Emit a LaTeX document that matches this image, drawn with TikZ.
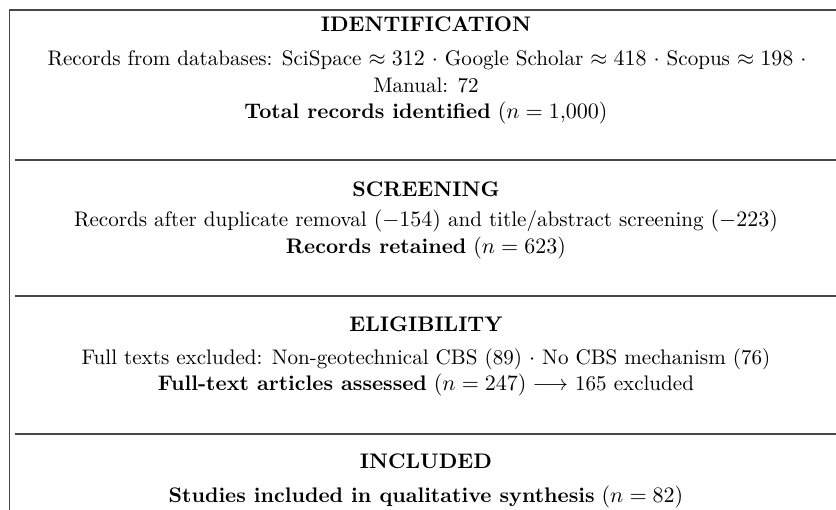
\documentclass[tikz,border=0pt]{standalone}
\begin{document}
\begin{tikzpicture}[x=0.454545pt,y=-0.454545pt,
  rule/.style={draw=black!72,line width=0.55pt},
  txt/.style={anchor=base,inner sep=0pt,outer sep=0pt,font=\fontsize{9.58}{11.5}\selectfont}]
\useasboundingbox (0,0) rectangle (836,510);
% frame lines
\draw[rule] (9.5,510) -- (9.5,10) -- (836,10);
\draw[rule] (15,160) -- (836,160);
\draw[rule] (15,296) -- (836,296);
\draw[rule] (15,434) -- (836,434);
% identification
\node[txt] (h1) at (426,31.7) {\textbf{IDENTIFICATION}};
\node[txt] (a1) at (427,66) {Records from databases: SciSpace $\approx 312$ $\cdot$ Google Scholar $\approx 418$ $\cdot$ Scopus $\approx 198$ $\cdot$};
\node[txt] (a2) at (426,92.7) {Manual: 72};
\node[txt] (a3) at (426,118.5) {\textbf{Total records identified} $(n=1{,}000)$};
% screening
\node[txt] (h2) at (426,196) {\textbf{SCREENING}};
\node[txt] (b1) at (426,226.7) {Records after duplicate removal $(-154)$ and title/abstract screening $(-223)$};
\node[txt] (b2) at (426,253.3) {\textbf{Records retained} $(n=623)$};
% eligibility
\node[txt] (h3) at (426,331) {\textbf{ELIGIBILITY}};
\node[txt] (c1) at (426,364) {Full texts excluded: Non-geotechnical CBS (89) $\cdot$ No CBS mechanism (76)};
\node[txt] (c2) at (426,390) {\textbf{Full-text articles assessed} $(n=247)\longrightarrow$ 165 excluded};
% included
\node[txt] (h4) at (426,468) {\textbf{INCLUDED}};
\node[txt] (d1) at (426,502.7) {\textbf{Studies included in qualitative synthesis} $(n=82)$};
\end{tikzpicture}
\end{document}
